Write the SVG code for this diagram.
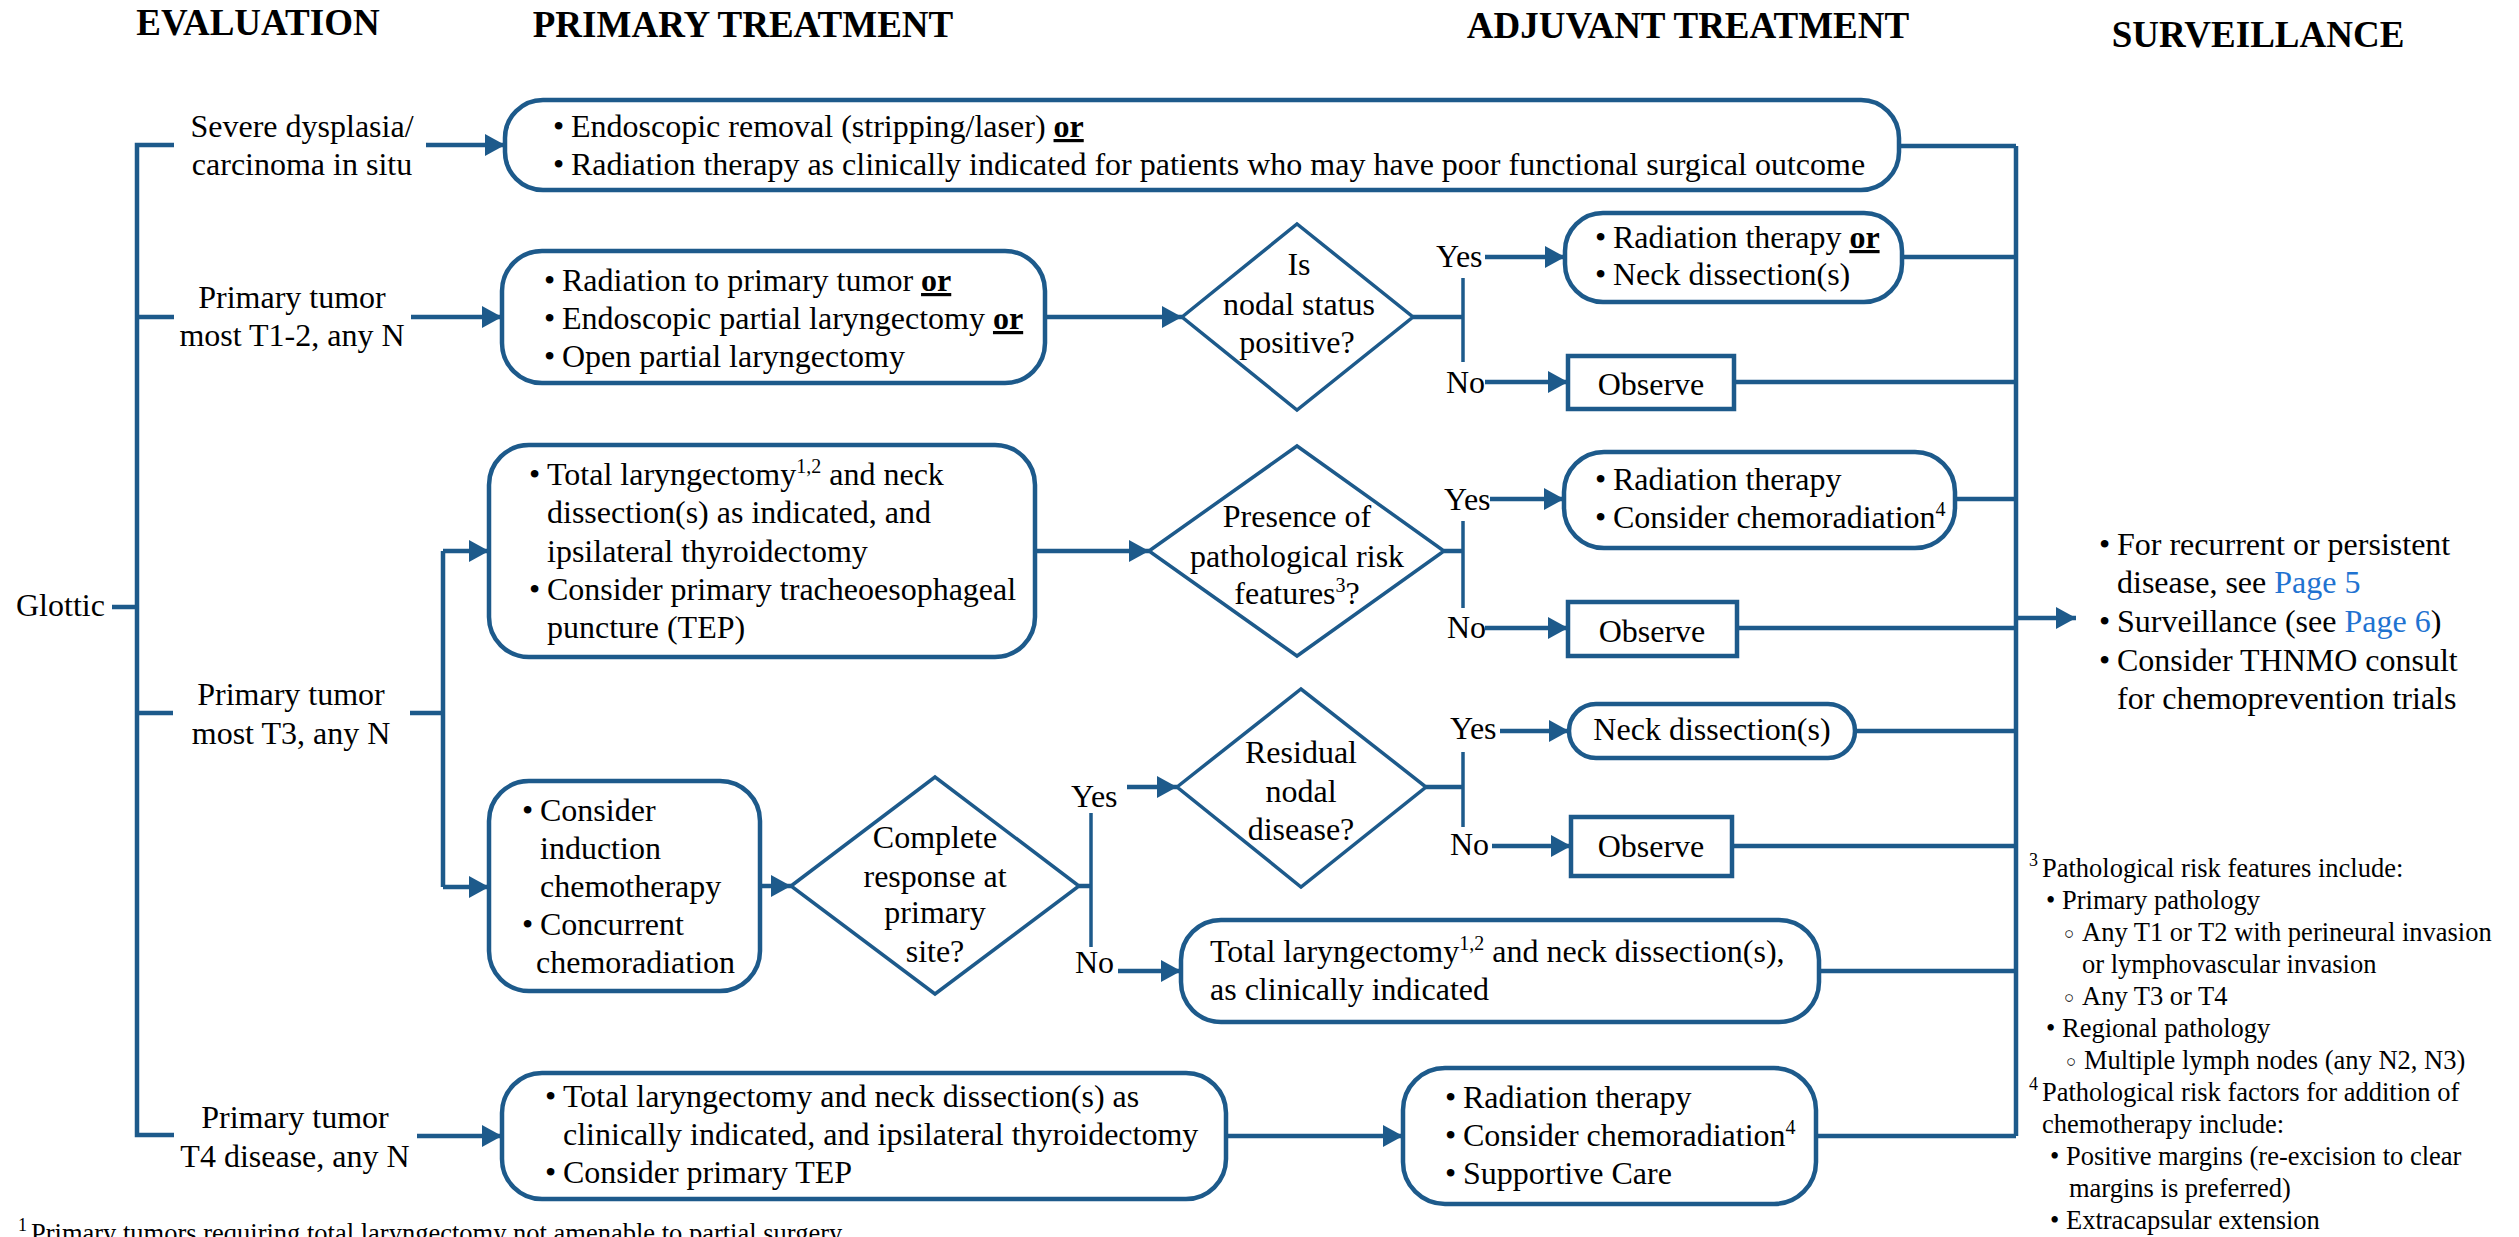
<svg xmlns="http://www.w3.org/2000/svg" width="2519" height="1237" viewBox="0 0 2519 1237">
<style>
text{font-family:"Liberation Serif","Times New Roman",serif;font-size:32px;fill:#000}
.h{font-weight:bold;font-size:37px;text-anchor:middle}
.c{text-anchor:middle}
.fn{font-size:26.5px}
.fs{font-size:18px}
.ci{font-size:17px}
.or{font-weight:bold;text-decoration:underline}
.lk{fill:#1f73d1}
.box{fill:#fff;stroke:#1d5a8b;stroke-width:4.5}
.dia{fill:#fff;stroke:#1d5a8b;stroke-width:3.5}
.ln{fill:none;stroke:#1d5a8b;stroke-width:4.5}
.thin{stroke-width:3.5}
.ar{marker-end:url(#ah)}
</style>
<defs>
<marker id="ah" markerUnits="userSpaceOnUse" markerWidth="20" markerHeight="22" refX="20" refY="11" orient="auto"><path d="M0,0 L20,11 L0,22 Z" fill="#1d5a8b"/></marker>
</defs>

<g id="headers">
<text class="h" x="258" y="35">EVALUATION</text>
<text class="h" x="743" y="37">PRIMARY TREATMENT</text>
<text class="h" x="1688" y="38">ADJUVANT TREATMENT</text>
<text class="h" x="2258" y="47">SURVEILLANCE</text>
</g>

<g id="connectors">
<path class="ln" d="M112,607 H137 M174,145 H137 V1135 H174 M137,317 H174 M137,713 H173"/>
<path class="ln ar" d="M426,145 H505"/>
<path class="ln ar" d="M411,317 H502"/>
<path class="ln ar" d="M417,1136 H502"/>
<path class="ln" d="M410,713 H443 M443,551 V887"/>
<path class="ln ar" d="M443,551 H489"/>
<path class="ln ar" d="M443,887 H489"/>
<path class="ln ar" d="M1045,317 H1182"/>
<path class="ln" d="M1413,317 H1463"/>
<path class="ln thin" d="M1463,278 V362"/>
<path class="ln ar" d="M1485,257 H1565"/>
<path class="ln ar" d="M1485,382 H1568"/>
<path class="ln ar" d="M1035,551 H1149"/>
<path class="ln" d="M1444,551 H1463"/>
<path class="ln thin" d="M1463,521 V608"/>
<path class="ln ar" d="M1490,499 H1564"/>
<path class="ln ar" d="M1485,628 H1568"/>
<path class="ln ar" d="M760,886 H791"/>
<path class="ln" d="M1079,886 H1091"/>
<path class="ln thin" d="M1091,813 V947"/>
<path class="ln ar" d="M1127,787 H1177"/>
<path class="ln ar" d="M1118,971 H1181"/>
<path class="ln" d="M1426,787 H1463"/>
<path class="ln thin" d="M1463,752 V827"/>
<path class="ln ar" d="M1500,731 H1569"/>
<path class="ln ar" d="M1492,846 H1571"/>
<path class="ln ar" d="M1226,1136 H1403"/>
<path class="ln" d="M2016,146 V1136 M1899,146 H2016 M1902,257 H2016 M1734,382 H2016 M1955,499 H2016 M1737,628 H2016 M1855,731 H2016 M1732,846 H2016 M1819,971 H2016 M1816,1136 H2016"/>
<path class="ln ar" d="M2016,618 H2076"/>
</g>

<g id="glottic"><text x="16" y="616">Glottic</text></g>

<g id="eval-cis">
<text class="c" x="302" y="137">Severe dysplasia/</text>
<text class="c" x="302" y="175">carcinoma in situ</text>
</g>
<g id="eval-t12">
<text class="c" x="292" y="308">Primary tumor</text>
<text class="c" x="292" y="346">most T1-2, any N</text>
</g>
<g id="eval-t3">
<text class="c" x="291" y="705">Primary tumor</text>
<text class="c" x="291" y="744">most T3, any N</text>
</g>
<g id="eval-t4">
<text class="c" x="295" y="1128">Primary tumor</text>
<text class="c" x="295" y="1167">T4 disease, any N</text>
</g>

<g id="box-cis">
<rect class="box" x="505" y="100" width="1394" height="90" rx="38"/>
<text x="553" y="137">•<tspan x="571">Endoscopic removal (stripping/laser) </tspan><tspan class="or">or</tspan></text>
<text x="553" y="175">•<tspan x="571">Radiation therapy as clinically indicated for patients who may have poor functional surgical outcome</tspan></text>
</g>

<g id="box-t12">
<rect class="box" x="502" y="251" width="543" height="132" rx="40"/>
<text x="544" y="291">•<tspan x="562">Radiation to primary tumor </tspan><tspan class="or">or</tspan></text>
<text x="544" y="329">•<tspan x="562">Endoscopic partial laryngectomy </tspan><tspan class="or">or</tspan></text>
<text x="544" y="367">•<tspan x="562">Open partial laryngectomy</tspan></text>
</g>

<g id="box-t3-surgery">
<rect class="box" x="489" y="445" width="546" height="212" rx="40"/>
<text x="529" y="485">•<tspan x="547">Total laryngectomy</tspan><tspan font-size="20" dy="-12">1,2</tspan><tspan dy="12"> and neck</tspan></text>
<text x="547" y="523">dissection(s) as indicated, and</text>
<text x="547" y="562">ipsilateral thyroidectomy</text>
<text x="529" y="600">•<tspan x="547">Consider primary tracheoesophageal</tspan></text>
<text x="547" y="638">puncture (TEP)</text>
</g>

<g id="box-t3-induction">
<rect class="box" x="489" y="781" width="271" height="210" rx="40"/>
<text x="522" y="821">•<tspan x="540">Consider</tspan></text>
<text x="540" y="859">induction</text>
<text x="540" y="897">chemotherapy</text>
<text x="522" y="935">•<tspan x="540">Concurrent</tspan></text>
<text x="536" y="973">chemoradiation</text>
</g>

<g id="box-t4">
<rect class="box" x="502" y="1073" width="724" height="126" rx="40"/>
<text x="545" y="1107">•<tspan x="563">Total laryngectomy and neck dissection(s) as</tspan></text>
<text x="563" y="1145">clinically indicated, and ipsilateral thyroidectomy</text>
<text x="545" y="1183">•<tspan x="563">Consider primary TEP</tspan></text>
</g>

<g id="dia-nodal">
<polygon class="dia" points="1182,317 1297,224 1413,317 1297,410"/>
<text class="c" x="1299" y="275">Is</text>
<text class="c" x="1299" y="315">nodal status</text>
<text class="c" x="1297" y="353">positive?</text>
<text x="1436" y="267">Yes</text>
<text x="1446" y="393">No</text>
</g>

<g id="dia-risk">
<polygon class="dia" points="1149,551 1297,446 1444,551 1297,656"/>
<text class="c" x="1297" y="527">Presence of</text>
<text class="c" x="1297" y="567">pathological risk</text>
<text class="c" x="1297" y="604">features<tspan font-size="20" dy="-12">3</tspan><tspan dy="12">?</tspan></text>
<text x="1444" y="510">Yes</text>
<text x="1447" y="638">No</text>
</g>

<g id="dia-complete">
<polygon class="dia" points="791,886 935,777 1079,886 935,994"/>
<text class="c" x="935" y="848">Complete</text>
<text class="c" x="935" y="887">response at</text>
<text class="c" x="935" y="923">primary</text>
<text class="c" x="935" y="962">site?</text>
<text x="1071" y="807">Yes</text>
<text x="1075" y="973">No</text>
</g>

<g id="dia-residual">
<polygon class="dia" points="1177,787 1301,689 1426,787 1301,887"/>
<text class="c" x="1301" y="763">Residual</text>
<text class="c" x="1301" y="802">nodal</text>
<text class="c" x="1301" y="840">disease?</text>
<text x="1450" y="739">Yes</text>
<text x="1450" y="855">No</text>
</g>

<g id="box-rad-neck">
<rect class="box" x="1565" y="213" width="337" height="89" rx="38"/>
<text x="1595" y="248">•<tspan x="1613">Radiation therapy </tspan><tspan class="or">or</tspan></text>
<text x="1595" y="285">•<tspan x="1613">Neck dissection(s)</tspan></text>
</g>

<g id="observe-1">
<rect class="box" x="1568" y="356" width="166" height="53"/>
<text class="c" x="1651" y="395">Observe</text>
</g>

<g id="box-rad-chemo">
<rect class="box" x="1564" y="452" width="391" height="96" rx="40"/>
<text x="1595" y="490">•<tspan x="1613">Radiation therapy</tspan></text>
<text x="1595" y="528">•<tspan x="1613">Consider chemoradiation</tspan><tspan font-size="20" dy="-12">4</tspan></text>
</g>

<g id="observe-2">
<rect class="box" x="1568" y="602" width="169" height="54"/>
<text class="c" x="1652" y="642">Observe</text>
</g>

<g id="box-neck">
<rect class="box" x="1569" y="704" width="286" height="54" rx="27"/>
<text class="c" x="1712" y="740">Neck dissection(s)</text>
</g>

<g id="observe-3">
<rect class="box" x="1571" y="817" width="161" height="59"/>
<text class="c" x="1651" y="857">Observe</text>
</g>

<g id="box-salvage">
<rect class="box" x="1181" y="920" width="638" height="102" rx="40"/>
<text x="1210" y="962">Total laryngectomy<tspan font-size="20" dy="-12">1,2</tspan><tspan dy="12"> and neck dissection(s),</tspan></text>
<text x="1210" y="1000">as clinically indicated</text>
</g>

<g id="box-t4-adjuvant">
<rect class="box" x="1403" y="1068" width="413" height="136" rx="42"/>
<text x="1445" y="1108">•<tspan x="1463">Radiation therapy</tspan></text>
<text x="1445" y="1146">•<tspan x="1463">Consider chemoradiation</tspan><tspan font-size="20" dy="-12">4</tspan></text>
<text x="1445" y="1184">•<tspan x="1463">Supportive Care</tspan></text>
</g>

<g id="surveillance">
<text x="2099" y="555">•<tspan x="2117">For recurrent or persistent</tspan></text>
<text x="2117" y="593">disease, see <tspan class="lk">Page 5</tspan></text>
<text x="2099" y="632">•<tspan x="2117">Surveillance (see </tspan><tspan class="lk">Page 6</tspan>)</text>
<text x="2099" y="671">•<tspan x="2117">Consider THNMO consult</tspan></text>
<text x="2117" y="709">for chemoprevention trials</text>
</g>

<g id="footnotes">
<text class="fs" x="2029" y="866">3</text>
<text class="fn" x="2042" y="877">Pathological risk features include:</text>
<text class="fn" x="2046" y="909">•<tspan x="2062">Primary pathology</tspan></text>
<text class="ci" x="2064" y="939">○</text>
<text class="fn" x="2082" y="941">Any T1 or T2 with perineural invasion</text>
<text class="fn" x="2082" y="973">or lymphovascular invasion</text>
<text class="ci" x="2064" y="1003">○</text>
<text class="fn" x="2082" y="1005">Any T3 or T4</text>
<text class="fn" x="2046" y="1037">•<tspan x="2062">Regional pathology</tspan></text>
<text class="ci" x="2066" y="1067">○</text>
<text class="fn" x="2084" y="1069">Multiple lymph nodes (any N2, N3)</text>
<text class="fs" x="2029" y="1090">4</text>
<text class="fn" x="2042" y="1101">Pathological risk factors for addition of</text>
<text class="fn" x="2042" y="1133">chemotherapy include:</text>
<text class="fn" x="2050" y="1165">•<tspan x="2066">Positive margins (re-excision to clear</tspan></text>
<text class="fn" x="2069" y="1197">margins is preferred)</text>
<text class="fn" x="2050" y="1229">•<tspan x="2066">Extracapsular extension</tspan></text>
<text class="fs" x="18" y="1231">1</text>
<text class="fn" x="31" y="1242">Primary tumors requiring total laryngectomy not amenable to partial surgery</text>
</g>
</svg>
